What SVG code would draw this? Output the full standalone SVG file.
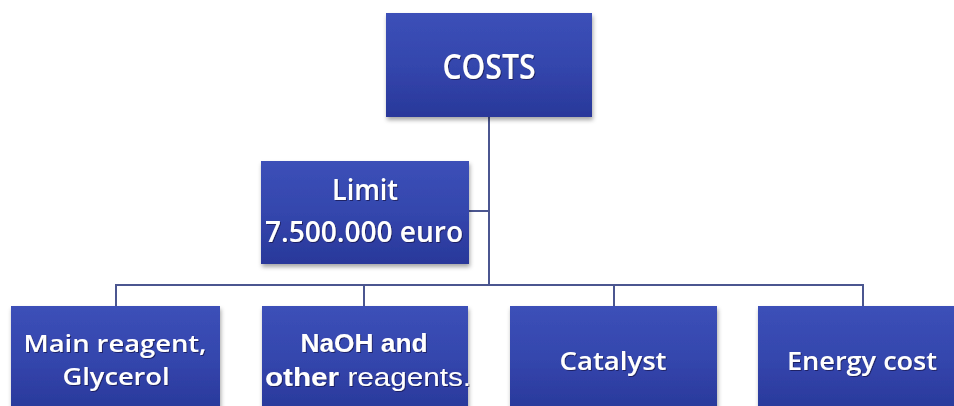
<svg xmlns="http://www.w3.org/2000/svg" width="954" height="406" viewBox="0 0 954 406">
  <defs>
    <linearGradient id="boxGrad" x1="0" y1="0" x2="0" y2="1">
      <stop offset="0" stop-color="#3c50b8"/>
      <stop offset="0.5" stop-color="#3446ad"/>
      <stop offset="1" stop-color="#29389a"/>
    </linearGradient>
    <filter id="boxShadow" x="-10%" y="-10%" width="120%" height="130%">
      <feDropShadow dx="1" dy="3" stdDeviation="2" flood-color="#000" flood-opacity="0.35"/>
    </filter>
    <filter id="textShadow" x="-5%" y="-20%" width="110%" height="150%">
      <feDropShadow dx="1" dy="1" stdDeviation="0.7" flood-color="#141a55" flood-opacity="0.8"/>
    </filter>
  </defs>
  <style>
    .box { fill: url(#boxGrad); filter: url(#boxShadow); }
    .lbl { fill: #ffffff; font-family: "Open Sans", "DejaVu Sans", sans-serif; font-weight: 600; text-anchor: middle; filter: url(#textShadow); }
    .arial { font-family: "Liberation Sans", Arial, sans-serif; font-weight: 700; }
    .conn { fill: none; stroke: #4b5690; stroke-width: 2; }
  </style>
  <rect width="954" height="406" fill="#ffffff"/>

  <g id="connectors">
    <path class="conn" d="M489 117 V285"/>
    <path class="conn" d="M469 211 H489"/>
    <path class="conn" d="M116 306 V285 H863 V306"/>
    <path class="conn" d="M364 285 V306"/>
    <path class="conn" d="M614 285 V306"/>
  </g>

  <g id="costs">
    <rect class="box" x="386" y="13" width="206" height="104"/>
    <text class="lbl" x="489" y="79" font-size="34" textLength="93" lengthAdjust="spacingAndGlyphs">COSTS</text>
  </g>

  <g id="limit">
    <rect class="box" x="261" y="161" width="208" height="103"/>
    <text class="lbl" x="365" y="200" font-size="28" textLength="66" lengthAdjust="spacingAndGlyphs">Limit</text>
    <text class="lbl" x="364" y="242" font-size="28" textLength="198" lengthAdjust="spacingAndGlyphs">7.500.000 euro</text>
  </g>

  <g id="main-reagent">
    <rect class="box" x="11" y="306" width="209" height="106"/>
    <text class="lbl" x="115" y="352" font-size="24" textLength="183" lengthAdjust="spacingAndGlyphs">Main reagent,</text>
    <text class="lbl" x="116" y="385" font-size="24" textLength="107" lengthAdjust="spacingAndGlyphs">Glycerol</text>
  </g>

  <g id="naoh">
    <rect class="box" x="262" y="306" width="206" height="106"/>
    <text class="lbl arial" x="364" y="352" font-size="26" textLength="127" lengthAdjust="spacingAndGlyphs">NaOH and</text>
    <text class="lbl arial" x="368" y="386" font-size="26" textLength="206" lengthAdjust="spacingAndGlyphs">other <tspan font-weight="400">reagents.</tspan></text>
  </g>

  <g id="catalyst">
    <rect class="box" x="510" y="306" width="207" height="106"/>
    <text class="lbl" x="613" y="370" font-size="26" textLength="107" lengthAdjust="spacingAndGlyphs">Catalyst</text>
  </g>

  <g id="energy">
    <rect class="box" x="758" y="306" width="208" height="106"/>
    <text class="lbl" x="862" y="370" font-size="26" textLength="150" lengthAdjust="spacingAndGlyphs">Energy cost</text>
  </g>
</svg>
